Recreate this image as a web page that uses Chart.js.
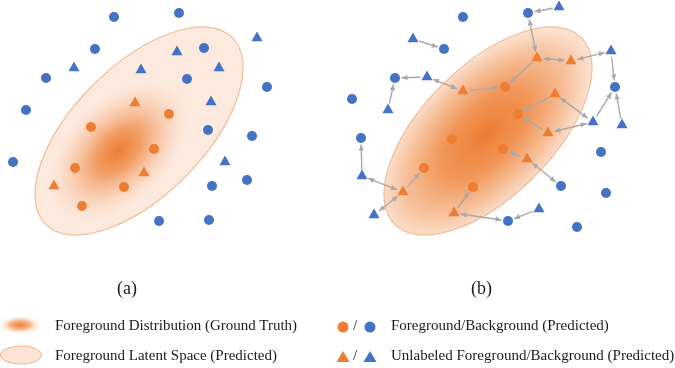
<!DOCTYPE html>
<html>
<head>
<meta charset="utf-8">
<script src="https://cdn.jsdelivr.net/npm/chart.js@4"></script>
<style>
html,body{margin:0;padding:0;background:#fff;}
#wrap{position:relative;width:675px;height:368px;overflow:hidden;}
#c{position:absolute;left:0;top:0;}
.t{position:absolute;font-family:"Liberation Serif","Times New Roman",serif;font-size:15px;color:#1a1a1a;white-space:nowrap;line-height:1;}
</style>
</head>
<body>
<div id="wrap">
<canvas id="c" width="675" height="368"></canvas>
<div class="t" style="left:117px;top:279px;font-size:18px">(a)</div>
<div class="t" style="left:471px;top:279px;font-size:18px">(b)</div>
<div class="t" style="left:55px;top:318px">Foreground Distribution (Ground Truth)</div>
<div class="t" style="left:55px;top:348px">Foreground Latent Space (Predicted)</div>
<div class="t" style="left:353px;top:318px">/</div>
<div class="t" style="left:353px;top:348px">/</div>
<div class="t" style="left:391px;top:318px">Foreground/Background (Predicted)</div>
<div class="t" style="left:391px;top:348px">Unlabeled Foreground/Background (Predicted)</div>
</div>
<script>
// panel (a) points, [x, y]
const aBgCircles = [[114,17],[179,13],[95,49],[204,48],[46,78],[187,79],[267,87],[26,110],[208,130],[252,136],[13,162],[212,186],[247,180],[159,221],[209,220]];
const aBgTriangles = [[257,38],[177,52],[74,68],[141,70],[219,68],[211,102],[225,162]];
const aFgCircles = [[169,114],[91,127],[154,149],[75,168],[124,187],[82,206]];
const aFgTriangles = [[135,103],[144,173],[54,186]];

// panel (b) points
const bBgCircles = [[528,13],[463,17],[444,49],[395,78],[615,87],[352,99],[361,138],[601,152],[561,186],[606,193],[508,221],[577,227]];
const bBgTriangles = [[559,7],[413,39],[611,51],[427,77],[388,110],[593,122],[622,125],[362,176],[374,215],[539,209]];
const bFgCircles = [[505,87],[518,114],[452,139],[503,149],[424,168],[473,187]];
const bFgTriangles = [[537,58],[571,61],[463,91],[555,94],[548,133],[527,159],[403,192],[454,213]];

// arrows in (b): from, to, two heads
const arrows = [
  ['BT',0,'BC',0,false], ['OT',0,'BC',0,true], ['BT',1,'BC',2,false],
  ['OT',0,'OT',1,true], ['OT',1,'BT',2,true], ['BT',2,'BC',4,false],
  ['OT',0,'OC',0,false], ['BT',3,'BC',3,false], ['BT',3,'OT',2,true],
  ['OT',2,'OC',0,false], ['BT',4,'BC',3,false], ['OT',3,'OC',1,false],
  ['OT',3,'BT',5,true], ['OT',4,'OC',1,false], ['OT',4,'BT',5,true],
  ['BT',5,'BC',4,false], ['BT',6,'BC',4,false], ['BT',7,'BC',6,false],
  ['BT',7,'OT',6,true], ['OT',6,'OC',4,false], ['OT',6,'BT',8,true],
  ['OT',5,'OC',3,false], ['OT',5,'BC',8,true], ['OT',7,'OC',5,false],
  ['OT',7,'BC',10,true], ['BT',9,'BC',10,false]
];
const sets = {BC: bBgCircles, BT: bBgTriangles, OC: bFgCircles, OT: bFgTriangles};

// latent-space ellipses: centre x, centre y
const ellipseA = [139,131];
const ellipseB = [488,131];

const blue = '#4472C4';
const orange = '#ED7D31';

function pts(arr){
  return arr.map(p => ({x:p[0], y:p[1]}));
}

function arrowLine(ctx, x1, y1, x2, y2, both){
  const dx = x2-x1, dy = y2-y1;
  const len = Math.sqrt(dx*dx+dy*dy);
  const ux = dx/len, uy = dy/len;
  const gap = 6.5;
  const sx = x1+ux*gap, sy = y1+uy*gap;
  const ex = x2-ux*gap, ey = y2-uy*gap;
  ctx.beginPath();
  ctx.moveTo(sx, sy);
  ctx.lineTo(ex, ey);
  ctx.stroke();
  head(ctx, ex, ey, ux, uy);
  if(both) head(ctx, sx, sy, -ux, -uy);
}

function head(ctx, x, y, ux, uy){
  const l = 6, w = 2.6;
  ctx.beginPath();
  ctx.moveTo(x, y);
  ctx.lineTo(x-ux*l-uy*w, y-uy*l+ux*w);
  ctx.lineTo(x-ux*l+uy*w, y-uy*l-ux*w);
  ctx.closePath();
  ctx.fill();
}

function gradEllipse(ctx, cx, cy, rx, ry, rot, stops){
  ctx.save();
  ctx.translate(cx, cy);
  ctx.rotate(rot);
  ctx.scale(1, ry/rx);
  const g = ctx.createRadialGradient(0,0,0,0,0,rx);
  stops.forEach(s => g.addColorStop(s[0], s[1]));
  ctx.fillStyle = g;
  ctx.beginPath();
  ctx.arc(0,0,rx,0,Math.PI*2);
  ctx.fill();
  ctx.restore();
}

const backdrop = {
  id: 'backdrop',
  beforeDatasetsDraw(chart){
    const ctx = chart.ctx;
    const sx = chart.scales.x, sy = chart.scales.y;
    const px = v => sx.getPixelForValue(v);
    const py = v => sy.getPixelForValue(v);
    const rot = -Math.PI/4;
    const ra = 132, rb = 65;

    // (a) pale latent space + inner ground-truth glow
    ctx.save();
    ctx.beginPath();
    ctx.ellipse(px(ellipseA[0]), py(ellipseA[1]), ra, rb, rot, 0, Math.PI*2);
    ctx.fillStyle = '#FCEADF';
    ctx.fill();
    ctx.clip();
    gradEllipse(ctx, px(118), py(151), 92, 56, rot, [
      [0,'rgba(237,125,49,1)'], [0.3,'rgba(239,138,70,0.8)'],
      [0.65,'rgba(245,178,132,0.4)'], [1,'rgba(252,234,223,0)']
    ]);
    ctx.restore();
    ctx.beginPath();
    ctx.ellipse(px(ellipseA[0]), py(ellipseA[1]), ra, rb, rot, 0, Math.PI*2);
    ctx.strokeStyle = '#F2BC98';
    ctx.lineWidth = 1.2;
    ctx.stroke();

    // (b) whole latent space shaded
    ctx.save();
    ctx.beginPath();
    ctx.ellipse(px(ellipseB[0]), py(ellipseB[1]), ra, rb, rot, 0, Math.PI*2);
    ctx.fillStyle = '#FCE5D6';
    ctx.fill();
    ctx.clip();
    gradEllipse(ctx, px(ellipseB[0]-2), py(ellipseB[1]+3), ra+4, rb+4, rot, [
      [0,'#ED7D31'], [0.4,'#F09557'], [0.75,'#F6C19C'], [1,'#FCE5D6']
    ]);
    ctx.restore();
    ctx.beginPath();
    ctx.ellipse(px(ellipseB[0]), py(ellipseB[1]), ra, rb, rot, 0, Math.PI*2);
    ctx.strokeStyle = '#F2BC98';
    ctx.lineWidth = 1.2;
    ctx.stroke();

    // arrows
    ctx.save();
    ctx.strokeStyle = '#A9A9A9';
    ctx.fillStyle = '#A9A9A9';
    ctx.lineWidth = 1.4;
    arrows.forEach(a => {
      const p = sets[a[0]][a[1]], q = sets[a[2]][a[3]];
      arrowLine(ctx, px(p[0]), py(p[1]), px(q[0]), py(q[1]), a[4]);
    });
    ctx.restore();

    // legend swatches
    gradEllipse(ctx, 20, 325, 22, 9.5, 0, [
      [0,'rgba(237,125,49,1)'], [0.45,'rgba(240,150,90,0.7)'], [1,'rgba(252,230,215,0)']
    ]);
    ctx.beginPath();
    ctx.ellipse(21, 355, 20.5, 9, 0, 0, Math.PI*2);
    ctx.fillStyle = '#FCE4D6';
    ctx.fill();
    ctx.strokeStyle = '#F4B183';
    ctx.lineWidth = 1;
    ctx.stroke();
    ctx.beginPath(); ctx.arc(343, 327, 5.5, 0, Math.PI*2); ctx.fillStyle = orange; ctx.fill();
    ctx.beginPath(); ctx.arc(370, 327, 5.5, 0, Math.PI*2); ctx.fillStyle = blue; ctx.fill();
    [[343, orange],[370, blue]].forEach(t => {
      ctx.beginPath();
      ctx.moveTo(t[0], 351); ctx.lineTo(t[0]+6.5, 362); ctx.lineTo(t[0]-6.5, 362);
      ctx.closePath(); ctx.fillStyle = t[1]; ctx.fill();
    });
  }
};

const circ = {pointStyle:'circle', pointRadius:5, borderWidth:0, pointBorderWidth:0};
const tri = {pointStyle:'triangle', pointRadius:6.4, borderWidth:0, pointBorderWidth:0};

new Chart(document.getElementById('c'), {
  type: 'scatter',
  data: {
    datasets: [
      Object.assign({label:'a background', data:pts(aBgCircles), backgroundColor:blue}, circ),
      Object.assign({label:'a unlabeled background', data:pts(aBgTriangles), backgroundColor:blue}, tri),
      Object.assign({label:'a foreground', data:pts(aFgCircles), backgroundColor:orange}, circ),
      Object.assign({label:'a unlabeled foreground', data:pts(aFgTriangles), backgroundColor:orange}, tri),
      Object.assign({label:'b background', data:pts(bBgCircles), backgroundColor:blue}, circ),
      Object.assign({label:'b unlabeled background', data:pts(bBgTriangles), backgroundColor:blue}, tri),
      Object.assign({label:'b foreground', data:pts(bFgCircles), backgroundColor:orange}, circ),
      Object.assign({label:'b unlabeled foreground', data:pts(bFgTriangles), backgroundColor:orange}, tri)
    ]
  },
  options: {
    responsive: false,
    animation: false,
    layout: {padding: 0, autoPadding: false},
    plugins: {legend: {display: false}, tooltip: {enabled: false}},
    scales: {
      x: {type:'linear', min:0, max:675, display:false},
      y: {type:'linear', min:0, max:368, reverse:true, display:false}
    }
  },
  plugins: [backdrop]
});
</script>
</body>
</html>
